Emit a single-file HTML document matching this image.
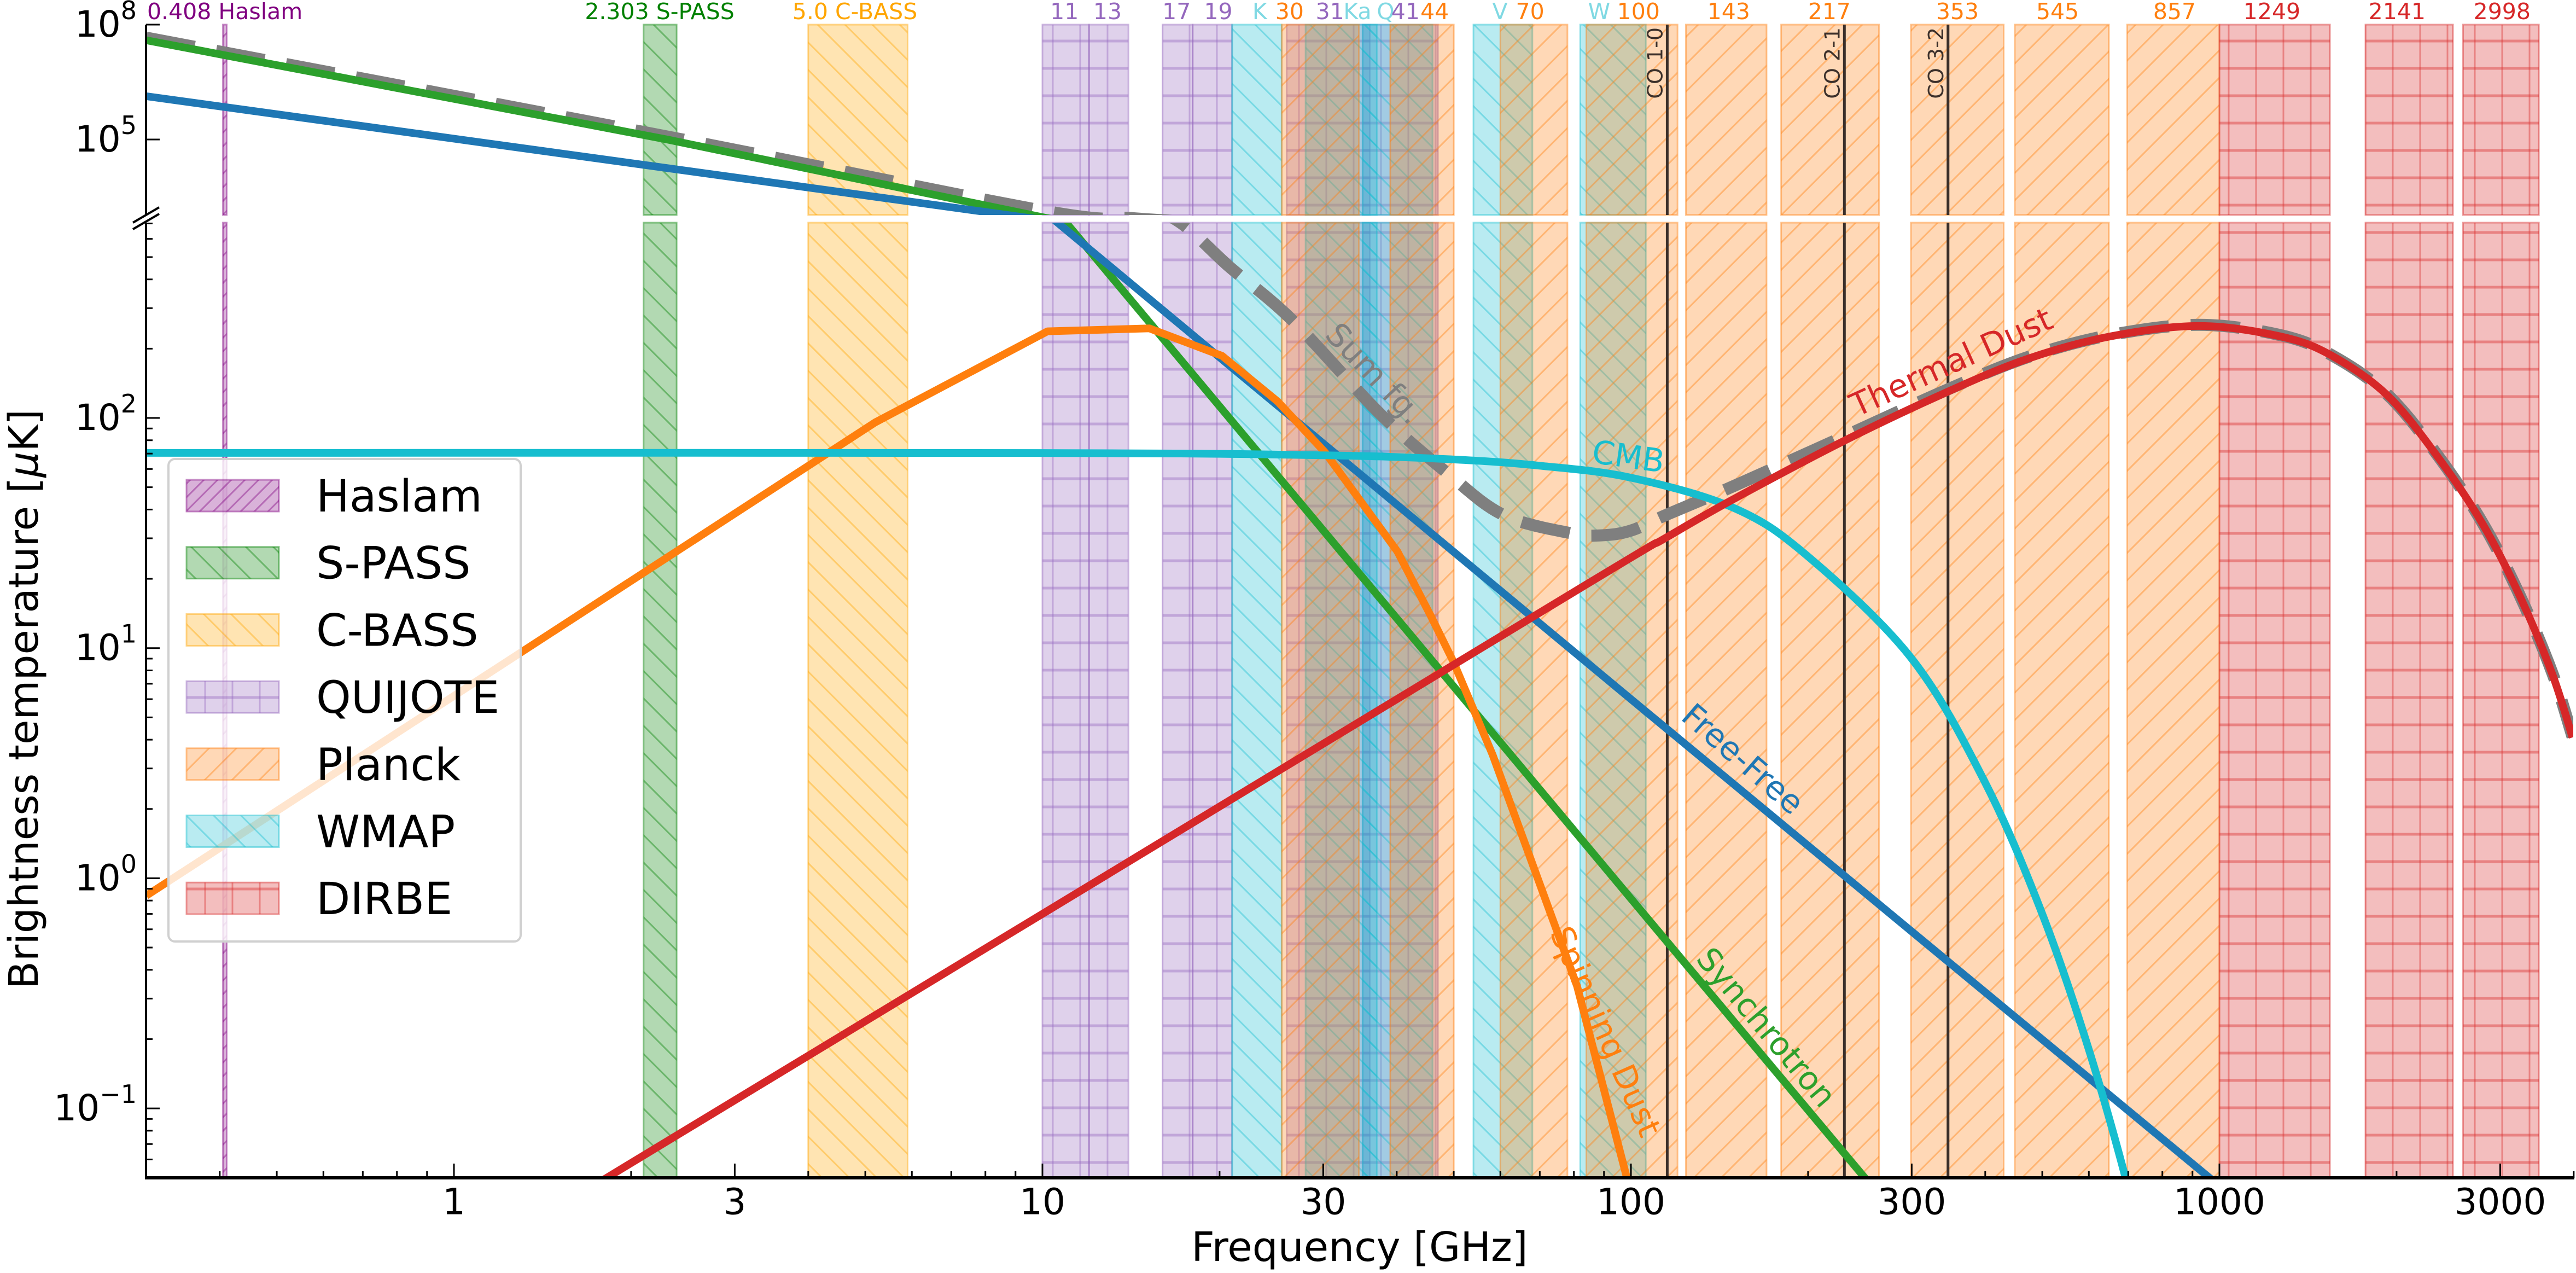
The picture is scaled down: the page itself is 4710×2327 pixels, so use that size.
<!DOCTYPE html>
<html>
<head>
<meta charset="utf-8">
<style>
html,body{margin:0;padding:0;background:#fff;overflow:hidden;width:4710px;height:2327px;}
svg{display:block;font-family:"DejaVu Sans","Liberation Sans",sans-serif;}
</style>
</head>
<body>
<svg id="chart" xmlns="http://www.w3.org/2000/svg" width="4710" height="2327" viewBox="0 0 4710 2327">
<defs>
  <clipPath id="clipU"><rect x="267" y="45" width="4438" height="348"/></clipPath>
  <clipPath id="clipL"><rect x="267" y="407" width="4438" height="1746"/></clipPath>
</defs>
<g id="bands"></g>
<g id="colines"></g>
<g id="curvesU" clip-path="url(#clipU)"></g>
<g id="curvesL" clip-path="url(#clipL)"></g>
<g id="axes"></g>
<g id="toplabels"></g>
<g id="curvelabels"></g>
<g id="legend"></g>
<text x="2486" y="2305" font-size="74" text-anchor="middle">Frequency [GHz]</text>
<text transform="translate(44,1278) rotate(-90)" font-size="74" text-anchor="middle" dominant-baseline="central">Brightness temperature [<tspan font-style="italic">μ</tspan>K]</text>
</svg>
<script>
// ---------- data ----------
const familyNames = ["Haslam","S-PASS","C-BASS","QUIJOTE","Planck","WMAP","DIRBE"];
const familyColors = ["#800080","#008000","#ffa500","#9467bd","#ff7f0e","#17becf","#d62728"];
const familyHatch = ["fwd3","back","back","grid","fwd","back","grid"];
const bandFamily = [0,1,2,3,3,3,3,3,3,5,5,5,5,5,4,4,4,4,4,4,4,4,4,6,6,6];
const bandLow  = [0.405,2.1,4.0,10,12,16,18,26,35,21,28,35,54,82,25.5,39,60,84,124,180,299,449,697,1000,1771,2594];
const bandHigh = [0.411,2.39,5.9,12,14,18,21,36,47,25.5,37,46,68,106,34.5,50,78,120,170,264,430,649,1000,1541,2494,3490];
const labelText = ["0.408 Haslam","2.303 S-PASS","5.0 C-BASS","11","13","17","19","K","30","31","Ka","Q","41","44","V","70","W","100","143","217","353","545","857","1249","2141","2998"];
const labelFreq = [0.408,2.236,4.8,10.9,12.9,16.9,19.9,23.4,26.3,30.8,34.3,38.3,41.4,46.4,59.9,67.4,88.3,103,146.6,217.4,358.8,530.9,839,1228,2004,3022];
const labelColor = ["#800080","#008000","#ffa500","#9467bd","#9467bd","#9467bd","#9467bd","#80d9e3","#ff7f0e","#9467bd","#80d9e3","#80d9e3","#9467bd","#ff7f0e","#80d9e3","#ff7f0e","#80d9e3","#ff7f0e","#ff7f0e","#ff7f0e","#ff7f0e","#ff7f0e","#ff7f0e","#d62728","#d62728","#d62728"];
const coNames = ["CO 1-0","CO 2-1","CO 3-2"];
const coFreq = [115.27,230.54,345.8];

const sumFreq = [0.3,2.303,10,14.1,17.1,20.8,26.5,37.5,48.8,60.7,78.9,89,100,115.6,148,230,343,473,652,923,1270,1549,1932,2360,2805,3251,3681,3981];
const sumT    = [4.57e7,1.2e5,1400,890,710,453,268,104,57.5,37.9,31.6,30.9,32.4,38.2,50,83,132,184,229,254,229,188,126,67.6,34.7,16.6,7.76,4.12];
const syncFreq = [0.3,2.303,10,100,300];
const syncT    = [3.9e7,1.0e5,937,0.816,0.0285];
const ffFreq = [0.3,1,10,100,1000,1500];
const ffT    = [1.35e6,1.05e5,800,6.0,0.046,0.019];
const sdFreq = [0.3,5.2,10.2,15.2,20.2,25.1,30.2,34.4,40.1,45.7,49.9,58.2,81,98.4,110];
const sdT    = [0.84,95.7,238,245,186,118,71,45,26.3,13.8,8.75,3.44,0.34,0.05,0.02];
const dustFreq = [1.5,1.82,10,84,114,148,230,343,473,652,923,1270,1549,1932,2360,2805,3251,3681,3981];
const dustT    = [0.037,0.05,0.70,18.9,29.9,43.8,79.4,129,181,226,251,226,187,125,66.7,34.4,16.5,7.67,4.09];
const cmbFreq = [0.3,10,30,50,70,100,150,200,300,400,500,600,700,750];
const cmbT    = [70.5,70.4,68.8,66,62,55,40.5,25,9,2.6,0.7,0.18,0.045,0.02];

const xTickLabels = [1,3,10,30,100,300,1000,3000];
const yLowerMajors = [-1,0,1,2];
const yUpperMajors = [5,8];

// ---------- scales ----------
const NS="http://www.w3.org/2000/svg";
const X = f => 830 + 1076*Math.log10(f);
const YU = t => 45 + (8-Math.log10(t))*70;
const YL = t => 764 + (2-Math.log10(t))*420.7;
function mk(tag, attrs, parent){const e=document.createElementNS(NS,tag);for(const k in attrs)e.setAttribute(k,attrs[k]);parent.appendChild(e);return e;}

// ---------- patterns ----------
const defs=document.querySelector('defs');
familyColors.forEach((c,i)=>{
  const h=familyHatch[i];
  const s = h==="fwd3"?25:50;
  const p=mk('pattern',{id:'hatch'+i,patternUnits:'userSpaceOnUse',width:s,height:s},defs);
  const st={stroke:c,'stroke-opacity':0.4,'stroke-width':3,fill:'none'};
  if(h==="back"){mk('path',Object.assign({d:`M-5,-5 L${s+5},${s+5} M${s-5},-5 L${s+5},5 M-5,${s-5} L5,${s+5}`},st),p);}
  else if(h==="fwd"||h==="fwd3"){mk('path',Object.assign({d:`M-5,${s+5} L${s+5},-5 M-5,5 L5,-5 M${s-5},${s+5} L${s+5},${s-5}`},st),p);}
  else {mk('path',Object.assign({d:`M0,25 L${s},25`},st,{'stroke-width':5}),p);mk('path',Object.assign({d:`M25,0 L25,${s}`},st),p);}
});

// ---------- bands ----------
const bandsG=document.getElementById('bands');
const panels=[[45,393],[407,2153]];
bandLow.forEach((lo,i)=>{
  const fam=bandFamily[i], c=familyColors[fam];
  const x0=X(lo), x1=X(bandHigh[i]);
  panels.forEach(([y0,y1],pi)=>{
    const g=mk('g',{},bandsG);
    
    
    mk('rect',{x:x0,y:y0,width:x1-x0,height:y1-y0,fill:c,'fill-opacity':0.3},g);
    mk('rect',{x:x0,y:y0,width:x1-x0,height:y1-y0,fill:`url(#hatch${fam})`},g);
    mk('rect',{x:x0,y:y0,width:x1-x0,height:y1-y0,fill:'none',stroke:c,'stroke-opacity':0.45,'stroke-width':3},g);
  });
});

// ---------- CO lines ----------
const coG=document.getElementById('colines');
coFreq.forEach((f,i)=>{
  const x=X(f);
  const l1=mk('line',{x1:x,y1:45,x2:x,y2:393,stroke:'#3b2f2a','stroke-width':5},coG);
  
  
  const l2=mk('line',{x1:x,y1:407,x2:x,y2:2153,stroke:'#3b2f2a','stroke-width':5},coG);
  
  
  const t=mk('text',{transform:`translate(${x-9},50) rotate(-90)`,'font-size':38,'text-anchor':'end',fill:'#3b2f2a'},coG);
  t.textContent=coNames[i];
  
  
});

// ---------- curves ----------
function pts(fr,vals,Y){return fr.map((f,i)=>[X(f),Y(vals[i])]);}
function poly(p){return 'M'+p.map(q=>q[0].toFixed(1)+','+q[1].toFixed(1)).join(' L');}
function smooth(p){
  let d='M'+p[0][0].toFixed(1)+','+p[0][1].toFixed(1);
  for(let i=0;i<p.length-1;i++){
    const p0=p[Math.max(0,i-1)],p1=p[i],p2=p[i+1],p3=p[Math.min(p.length-1,i+2)];
    const c1=[p1[0]+(p2[0]-p0[0])/6,p1[1]+(p2[1]-p0[1])/6];
    const c2=[p2[0]-(p3[0]-p1[0])/6,p2[1]-(p3[1]-p1[1])/6];
    d+=` C${c1[0].toFixed(1)},${c1[1].toFixed(1)} ${c2[0].toFixed(1)},${c2[1].toFixed(1)} ${p2[0].toFixed(1)},${p2[1].toFixed(1)}`;
  }
  return d;
}
const series=[
  {name:'sum-fg',fr:sumFreq,v:sumT,c:'#7f7f7f',w:22,dash:'90 40',sm:true},
  {name:'synchrotron',fr:syncFreq,v:syncT,c:'#2ca02c',w:14,sm:false},
  {name:'free-free',fr:ffFreq,v:ffT,c:'#1f77b4',w:14,sm:false},
  {name:'spinning-dust',fr:sdFreq,v:sdT,c:'#ff7f0e',w:14,sm:false},
  {name:'cmb',fr:cmbFreq,v:cmbT,c:'#17becf',w:14,sm:true},
  {name:'thermal-dust',fr:dustFreq,v:dustT,c:'#d62728',w:14,sm:true},
];
[['curvesU',YU],['curvesL',YL]].forEach(([id,Y])=>{
  const g=document.getElementById(id);
  series.forEach(s=>{
    const p=pts(s.fr,s.v,Y);
    const a={d:s.sm?smooth(p):poly(p),fill:'none',stroke:s.c,'stroke-width':s.w,'stroke-linejoin':'round'};
    if(s.dash)a['stroke-dasharray']=s.dash;
    const e=mk('path',a,g);
    
    
  });
});

// ---------- axes ----------
const ax=document.getElementById('axes');
function line(x1,y1,x2,y2,w){return mk('line',{x1,y1,x2,y2,stroke:'#000','stroke-width':w},ax);}
const spU=line(267,45,267,393,4);  
const spL=line(267,407,267,2155,4);  
const spB=line(265,2153,4707,2153,6);  
line(243,419,291,391,4); line(243,407,291,379,4);
for(let d=-1;d<=3;d++){for(let k=1;k<=9;k++){
  const f=k*Math.pow(10,d); if(f<0.3||f>4000)continue;
  const major=xTickLabels.includes(f);
  line(X(f),2153,X(f),2153-(major?26:12),3);
}}
xTickLabels.forEach(f=>{
  const t=mk('text',{x:X(f),y:2197,'font-size':66,'text-anchor':'middle','dominant-baseline':'central'},ax);
  t.textContent=String(f);
  
  
});
for(let d=-2;d<=2;d++){for(let k=1;k<=9;k++){
  const v=k*Math.pow(10,d); if(v<0.05||v>700)continue;
  line(267,YL(v),267+(k===1?25:12),YL(v),3);
}}
function ylab(e,y){
  const t=mk('text',{x:250,y:y+22,'font-size':66,'text-anchor':'end'},ax);
  
  
  t.textContent='10';
  const s=mk('tspan',{dy:-32,'font-size':46},t); s.textContent=(e<0?'\u2212':'')+Math.abs(e);
}
yLowerMajors.forEach(e=>ylab(e,YL(Math.pow(10,e))));
yUpperMajors.forEach(e=>{line(267,YU(Math.pow(10,e)),292,YU(Math.pow(10,e)),3);ylab(e,YU(Math.pow(10,e)));});

// ---------- top labels ----------
const tl=document.getElementById('toplabels');
labelText.forEach((s,i)=>{
  const t=mk('text',{x:X(labelFreq[i]),y:35,'font-size':41,'text-anchor':'middle',fill:labelColor[i]},tl);
  t.textContent=s;
  
  
});

// ---------- curve labels ----------
const clText=['Sum fg.','Thermal Dust','CMB','Free-Free','Synchrotron','Spinning Dust'];
const clFreq=[36.7,350,99,155,170,90.6];
const clT=[156,175,68,3.3,0.225,0.216];
const clRot=[46.5,-24.4,8,41,50,66];
const clColor=['#7f7f7f','#d62728','#17becf','#1f77b4','#2ca02c','#ff7f0e'];
const cl=document.getElementById('curvelabels');
clText.forEach((s,i)=>{
  const t=mk('text',{transform:`translate(${X(clFreq[i])},${YL(clT[i])}) rotate(${clRot[i]})`,'font-size':59,'text-anchor':'middle','dominant-baseline':'central',fill:clColor[i]},cl);
  t.textContent=s;
  
  
});

// ---------- legend ----------
const lg=document.getElementById('legend');
const box=mk('rect',{x:308,y:839,width:644,height:882,rx:12,fill:'#fff','fill-opacity':0.8,stroke:'#d0d0d0','stroke-width':4},lg);


familyNames.forEach((n,i)=>{
  const cy=906+i*122.7;
  const g=mk('g',{},lg);
  
  
  mk('rect',{x:341,y:cy-29,width:169,height:58,fill:familyColors[i],'fill-opacity':0.3},g);
  mk('rect',{x:341,y:cy-29,width:169,height:58,fill:`url(#hatch${i})`},g);
  mk('rect',{x:341,y:cy-29,width:169,height:58,fill:'none',stroke:familyColors[i],'stroke-opacity':0.45,'stroke-width':3},g);
  const t=mk('text',{x:578,y:cy+29,'font-size':81},g);
  t.textContent=n;
});
</script>
</body>
</html>
